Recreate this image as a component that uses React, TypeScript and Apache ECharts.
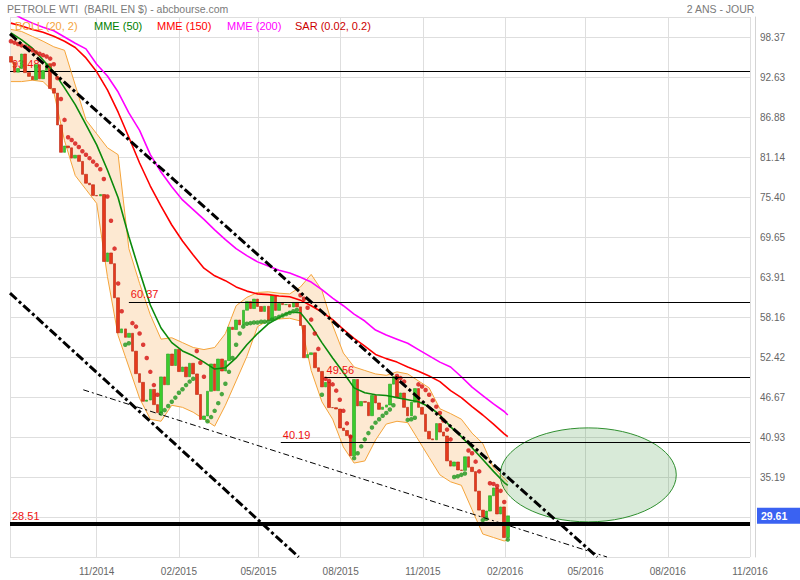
import React, { useEffect, useRef } from 'react';
import * as echarts from 'echarts';

const DAY = 86400000;
const t = (s: string) => Date.parse(s + 'T00:00:00Z');

const AXIS_START = '2014-07-27';
const AXIS_END = '2016-11-01';
const CANDLE_START = '2014-07-28';
const CANDLE_STEP_DAYS = 4;
const INDICATOR_STEP = 3;

const TITLE = 'PETROLE WTI  (BARIL EN $) - abcbourse.com';
const PERIOD = '2 ANS - JOUR';
const legendNames = ['BOLL (20, 2)', 'MME (50)', 'MME (150)', 'MME (200)', 'SAR (0.02, 0.2)'];

const xTickLabels = ['11/2014', '02/2015', '05/2015', '08/2015', '11/2015', '02/2016', '05/2016', '08/2016', '11/2016'];
const yGridValues = [23.7, 29.45, 35.19, 40.93, 46.67, 52.42, 58.16, 63.91, 69.65, 75.4, 81.14, 86.88, 92.63, 98.37, 101.28];
const yTickLabels = [35.19, 40.93, 46.67, 52.42, 58.16, 63.91, 69.65, 75.4, 81.14, 86.88, 92.63, 98.37];

const firstOpen = 95.6;
const closes = [
  94.79, 93.35, 93.88, 95.96, 93.29, 92.75, 92.27, 94.42, 92.41, 93.6,
  94.57, 91.01, 90.34, 85.77, 81.84, 82.75, 82.49, 81.01, 81.42, 80.54,
  78.68, 77.4, 77.18, 75.64, 75.58, 75.78, 66.15, 67.38, 65.84, 60.94,
  55.91, 56.47, 55.26, 55.84, 53.27, 50.04, 48.79, 46.07, 46.25, 47.78,
  45.59, 44.45, 49.57, 48.45, 52.86, 51.21, 53.53, 50.34, 50.99, 49.59,
  51.53, 50.0, 47.05, 43.46, 43.96, 47.51, 51.43, 47.6, 52.14, 50.42,
  51.91, 56.71, 56.38, 57.74, 57.06, 59.15, 60.4, 59.39, 60.75, 59.69,
  58.98, 59.72, 57.68, 61.26, 59.13, 60.14, 59.96, 59.97, 59.61, 60.27,
  59.63, 56.96, 52.33, 52.78, 53.04, 50.89, 50.36, 48.14, 48.79, 45.17,
  45.15, 44.96, 42.23, 41.87, 41.14, 38.24, 49.2, 45.41, 46.05, 45.92,
  44.0, 46.9, 45.83, 44.91, 45.23, 45.54, 48.53, 49.63, 46.64, 47.26,
  45.2, 43.98, 45.94, 47.9, 45.2, 44.21, 41.75, 40.67, 40.54, 42.87,
  41.65, 41.08, 37.51, 36.76, 37.35, 36.2, 36.14, 38.1, 36.6, 35.97,
  33.16, 30.44, 29.42, 30.3, 32.5, 33.62, 29.88, 30.89, 26.5, 29.61,
];

const sar = [
  97.8, 97.6, 97.4, 97.2, 97.0, 96.8, 96.5, 96.2, 96.0, 95.8,
  95.6, 95.3, 94.5, 92.5, 89.5, 86.5, 84.0, 83.6, 83.1, 82.6,
  82.0, 81.5, 81.0, 80.5, 80.0, 79.4, 78.0, 75.5, 72.0, 68.0,
  63.0, 59.0, 54.2, 54.4, 57.3, 56.8, 55.8, 54.2, 52.3, 50.3,
  48.4, 47.0, 44.3, 44.8, 45.4, 46.0, 46.6, 47.3, 47.8, 48.4,
  48.9, 49.3, 53.3, 51.6, 49.6, 43.2, 43.8, 44.7, 45.8, 47.1,
  48.6, 50.3, 52.3, 54.2, 55.8, 56.8, 57.2, 57.3, 57.4, 57.4,
  57.5, 57.5, 57.5, 57.8, 58.0, 58.2, 58.4, 58.6, 58.8, 59.0,
  59.2, 61.3, 60.8, 59.5, 57.8, 55.8, 53.6, 47.0, 49.3, 49.0,
  48.5, 47.6, 46.3, 44.7, 42.9, 41.0, 37.9, 38.6, 39.6, 40.6,
  41.5, 42.3, 43.0, 43.5, 44.0, 44.4, 44.9, 45.5, 49.7, 49.4,
  48.9, 43.4, 43.5, 43.7, 48.5, 48.2, 47.7, 47.0, 46.2, 45.3,
  44.4, 43.3, 42.0, 40.6, 35.2, 35.3, 35.5, 35.7, 39.0, 38.6,
  37.4, 36.0, 29.0, 29.2, 34.3, 34.2, 33.9, 33.2, 31.6, 26.2,
];

const bollUpper = [
  99.5, 99.2, 98.5, 97.8, 97.0, 96.5, 91.5, 86.5, 84.5, 82.5,
  81.5, 68.0, 63.0, 58.5, 55.0, 55.2, 54.5, 53.8, 53.5, 53.8,
  55.8, 59.8, 61.0, 61.7, 61.8, 61.6, 61.5, 62.5, 64.3, 62.0,
  57.0, 53.0, 51.0, 50.5, 50.0, 49.8, 50.3, 50.0, 49.0, 48.0,
  45.0, 44.3, 43.5, 41.5, 40.0, 36.5, 35.0, 34.5,
];
const bollLower = [
  92.0, 92.0, 92.2, 92.0, 90.5, 83.5, 78.5, 76.5, 74.5, 64.0,
  55.5, 51.0, 46.5, 43.5, 43.2, 45.5, 45.2, 44.5, 43.5, 42.5,
  45.5, 49.0, 52.5, 56.8, 57.7, 57.9, 58.0, 57.6, 50.5, 46.0,
  43.5, 39.5, 37.2, 37.5, 40.5, 42.8, 43.2, 43.0, 40.5, 38.0,
  35.5, 34.5, 34.0, 30.5, 27.0, 26.5, 26.0, 26.2,
];
const mme50 = [
  99.0, 98.0, 96.8, 95.1, 93.4, 91.1, 88.7, 85.8, 82.9, 79.3,
  75.3, 69.7, 64.7, 59.9, 56.6, 54.5, 53.3, 52.6, 51.7, 50.7,
  50.9, 52.3, 54.2, 55.8, 57.2, 58.1, 58.9, 58.8, 56.9, 54.5,
  52.3, 50.2, 48.0, 47.3, 47.0, 46.9, 46.6, 46.3, 46.0, 45.3,
  44.1, 42.4, 41.0, 39.4, 37.7, 36.0, 34.4, 34.0,
];
const mme150 = [
  100.4, 100.0, 99.5, 99.1, 98.5, 97.8, 96.9, 95.4, 93.4, 90.8,
  87.6, 84.0, 80.3, 77.0, 74.1, 71.4, 69.1, 67.1, 65.2, 64.1,
  63.4, 62.5, 61.9, 61.5, 61.4, 61.2, 61.1, 60.6, 59.8, 58.9,
  57.8, 56.4, 55.1, 54.0, 52.8, 52.2, 51.7, 51.0, 50.4, 49.7,
  48.9, 47.6, 46.6, 45.3, 44.1, 42.8, 41.4, 41.0,
];
const mme200 = [
  102.0, 101.1, 100.4, 99.8, 99.3, 98.4, 97.5, 96.7, 94.5, 92.8,
  90.5, 87.5, 85.0, 81.5, 79.0, 76.9, 75.0, 73.6, 72.2, 70.7,
  69.3, 68.0, 67.0, 66.1, 65.5, 64.9, 64.5, 63.9, 63.2, 62.1,
  60.9, 59.8, 58.6, 57.6, 56.3, 55.6, 55.0, 54.4, 53.5, 52.6,
  51.7, 51.0, 49.6, 48.1, 46.9, 45.7, 44.6, 44.1,
];

const topLevelValue = 93.48;
const levelValues = [60.37, 49.56, 40.19];
const levelStarts = ['2014-12-07', '2015-07-14', '2015-05-26'];
const supportValue = 28.51;
const lastPrice = 29.61;

const trendMain = [['2014-07-27', 98.87], ['2016-05-14', 23.7]];
const trendLow = [['2014-07-27', 61.6], ['2015-06-15', 23.7]];
const trendThin = [['2014-10-17', 47.72], ['2016-05-25', 23.7]];

const zoneCenter = ['2016-05-04', 35.5];
const zoneRadius = [98.5, 6.75]; // days, price

const FONT = '"Liberation Sans", Arial, Helvetica, sans-serif';

export default function App() {
  const ref = useRef<HTMLDivElement>(null);
  useEffect(() => {
    if (!ref.current) return;
    const chart = echarts.init(ref.current, undefined, { renderer: 'svg' });
    const START = t(AXIS_START);
    const END = t(AXIS_END);
    const c0 = t(CANDLE_START);
    const candleX = (i: number) => c0 + i * CANDLE_STEP_DAYS * DAY;
    const candles = closes.map((c, i) => {
      const o = i === 0 ? firstOpen : closes[i - 1];
      return [candleX(i), o, c, Math.min(o, c), Math.max(o, c)];
    });
    const indX = bollUpper.map((_, k) => candleX(Math.min(k * INDICATOR_STEP, closes.length - 1)));
    const pairs = (arr: number[]) => arr.map((v, k) => [indX[k], v]);
    const sarRed: number[][] = [];
    const sarGreen: number[][] = [];
    sar.forEach((s, i) => {
      (s > closes[i] ? sarRed : sarGreen).push([candleX(i), s]);
    });
    const xTicks = xTickLabels.map((l) => {
      const [m, y] = l.split('/').map(Number);
      return Date.UTC(y, m - 1, 1);
    });
    const xLabelFor = (v: number) => {
      const idx = xTicks.findIndex((x) => Math.abs(x - v) < DAY);
      if (idx >= 0) return xTickLabels[idx];
      const d = new Date(v);
      return String(d.getUTCMonth() + 1).padStart(2, '0') + '/' + d.getUTCFullYear();
    };

    const thinBlack = { color: '#000', width: 1, type: 'solid' as const };
    const levelLabel = (v: number) => ({
      show: true, position: 'insideStartTop', formatter: v.toFixed(2), color: '#ee1111',
      fontSize: 11, fontFamily: FONT, distance: 2,
    });
    const dashThick = { color: '#000', width: 3, type: [9, 3, 3, 3] };
    const dashThin = { color: '#000', width: 1, type: [6, 3, 2, 3] };
    const trendItem = (pts: (string | number)[][], style: any) => [
      { coord: [t(pts[0][0] as string), pts[0][1]], lineStyle: style, label: { show: false } },
      { coord: [t(pts[1][0] as string), pts[1][1]] },
    ];

    const legendX = [15, 94, 157, 227, 295];
    const legendColors = ['#f5a43a', '#008000', '#ff0000', '#ff00ff', '#cc0000'];

    chart.setOption({
      animation: false,
      grid: { left: 10, right: 50, top: 17, bottom: 23, containLabel: false },
      xAxis: {
        type: 'value', min: START, max: END,
        axisLine: { show: false },
        axisTick: { show: false, customValues: [START, ...xTicks] },
        splitLine: { show: true, lineStyle: { color: '#dedede', width: 1 } },
        axisLabel: {
          customValues: xTicks, formatter: (v: number) => xLabelFor(v),
          color: '#666', fontSize: 10, fontFamily: FONT, margin: 9,
        },
      },
      yAxis: {
        type: 'value', position: 'right', min: 23.7, max: 101.28, offset: 5,
        axisLine: { show: true, lineStyle: { color: '#d4d4d4' } },
        axisTick: { show: false, customValues: yGridValues },
        splitLine: { show: true, lineStyle: { color: '#dedede', width: 1 } },
        axisLabel: {
          customValues: yTickLabels, formatter: (v: number) => v.toFixed(2),
          color: '#666', fontSize: 10, fontFamily: FONT, margin: 5,
        },
      },
      graphic: [
        { type: 'text', left: 7, top: 3, style: { text: TITLE, fill: '#7a7a7a', fontSize: 10.5, fontFamily: FONT } },
        { type: 'text', right: 45, top: 3, style: { text: PERIOD, fill: '#7a7a7a', fontSize: 10.5, fontFamily: FONT } },
        ...legendNames.map((n, k) => ({
          type: 'text', left: legendX[k], top: 20, z: 20,
          style: { text: n, fill: legendColors[k], fontSize: 11, fontFamily: FONT },
        })),
      ],
      series: [
        {
          type: 'custom', name: 'bollBand', silent: true, z: 1, clip: true,
          encode: { x: 0, y: 1 },
          data: [[indX[0], bollUpper[0]]],
          renderItem: (_p: any, api: any) => {
            const up = indX.map((x, k) => api.coord([x, bollUpper[k]]));
            const lo = indX.map((x, k) => api.coord([x, bollLower[k]])).reverse();
            return { type: 'polygon', shape: { points: up.concat(lo) }, style: { fill: '#fde9d2' } };
          },
        },
        {
          type: 'line', name: 'bollUp', data: pairs(bollUpper), showSymbol: false, silent: true, z: 2,
          lineStyle: { color: '#f5a43a', width: 1 },
          markLine: {
            silent: true, symbol: ['none', 'none'], z: 2, animation: false,
            data: [[
              { coord: [START, topLevelValue], lineStyle: thinBlack, label: levelLabel(topLevelValue) },
              { coord: [END, topLevelValue] },
            ]],
          },
        },
        {
          type: 'line', name: 'bollLow', data: pairs(bollLower), showSymbol: false, silent: true, z: 2,
          lineStyle: { color: '#f5a43a', width: 1 },
        },
        {
          type: 'candlestick', name: 'WTI', data: candles, encode: { x: 0, y: [1, 2, 3, 4] },
          barWidth: 3, z: 3, silent: true, clip: false,
          itemStyle: {
            color: '#3ccc2c', color0: '#e63a1c', borderColor: '#22a022', borderColor0: '#b8230f', borderWidth: 0.6,
          },
          markLine: {
            silent: true, symbol: ['none', 'none'], z: 8, animation: false,
            data: [
              ...levelValues.map((v, k) => [
                { coord: [t(levelStarts[k]), v], lineStyle: thinBlack, label: levelLabel(v) },
                { coord: [END, v] },
              ]),
              [
                { coord: [START, supportValue], lineStyle: { color: '#000', width: 4, type: 'solid' }, label: levelLabel(supportValue) },
                { coord: [END, supportValue] },
              ],
              [
                {
                  coord: [START, lastPrice], lineStyle: { color: 'rgba(0,0,0,0)', width: 0 },
                  label: {
                    show: true, position: 'end', formatter: lastPrice.toFixed(2), color: '#fff', fontWeight: 'bold',
                    backgroundColor: '#3a62f2', padding: [3, 14, 2, 4], fontSize: 10.5, fontFamily: FONT, distance: 7,
                  },
                },
                { coord: [END, lastPrice] },
              ],
              trendItem(trendMain, dashThick),
              trendItem(trendLow, dashThick),
              trendItem(trendThin, dashThin),
            ],
          },
        },
        {
          type: 'line', name: 'MME (50)', data: pairs(mme50), showSymbol: false, silent: true, z: 4,
          lineStyle: { color: '#0b8a0b', width: 1.6 },
        },
        {
          type: 'line', name: 'MME (150)', data: pairs(mme150), showSymbol: false, silent: true, z: 4,
          lineStyle: { color: '#ff0000', width: 1.6 },
        },
        {
          type: 'line', name: 'MME (200)', data: pairs(mme200), showSymbol: false, silent: true, z: 4,
          lineStyle: { color: '#ff00ff', width: 1.6 },
        },
        {
          type: 'scatter', name: 'SAR-', data: sarRed, symbolSize: 4.5, silent: true, z: 5,
          itemStyle: { color: '#d50f0f' },
        },
        {
          type: 'scatter', name: 'SAR+', data: sarGreen, symbolSize: 4.5, silent: true, z: 5,
          itemStyle: { color: '#1d961d' },
        },
        {
          type: 'custom', name: 'zone', silent: true, z: 7, clip: true,
          encode: { x: 0, y: 1 },
          data: [[t(zoneCenter[0] as string), zoneCenter[1], zoneRadius[0] * DAY, zoneRadius[1]]],
          renderItem: (_p: any, api: any) => {
            const c = api.coord([api.value(0), api.value(1)]);
            const s = api.size([api.value(2), api.value(3)]);
            return {
              type: 'ellipse',
              shape: { cx: c[0], cy: c[1], rx: s[0], ry: s[1] },
              style: { fill: 'rgba(60,150,60,0.2)', stroke: '#2f8f2f', lineWidth: 1 },
            };
          },
        },
      ],
    });
    return () => chart.dispose();
  }, []);
  return <div ref={ref} style={{ position: 'fixed', left: 0, top: 0, width: 800, height: 580, background: '#fff' }} />;
}
